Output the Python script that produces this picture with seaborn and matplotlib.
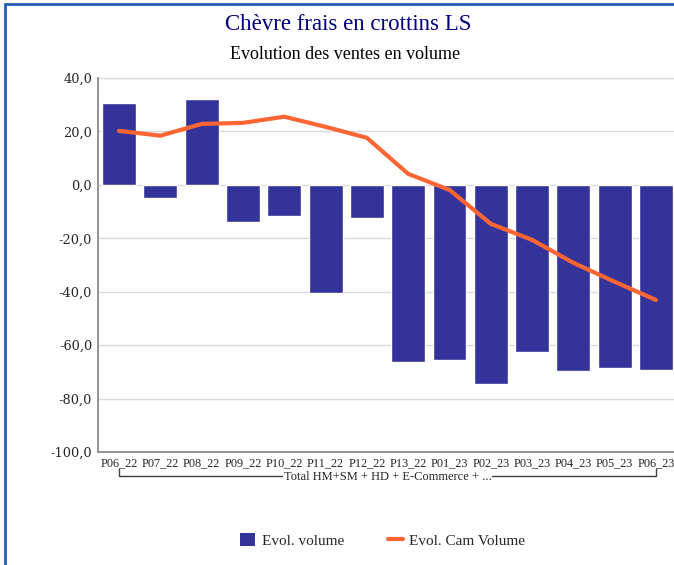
import numpy as np
import pandas as pd
import matplotlib
matplotlib.use("Agg")
import matplotlib.pyplot as plt
import matplotlib.transforms as mtransforms
from matplotlib.patches import Patch
from matplotlib.lines import Line2D
import seaborn as sns

periods = ["P06_22", "P07_22", "P08_22", "P09_22", "P10_22", "P11_22", "P12_22",
           "P13_22", "P01_23", "P02_23", "P03_23", "P04_23", "P05_23", "P06_23"]
evol_volume = [30.7, -4.9, 32.2, -13.9, -11.6, -40.4, -12.4,
               -66.3, -65.5, -74.5, -62.5, -69.7, -68.5, -69.3]
evol_cam_volume = [20.2, 18.4, 22.8, 23.2, 25.5, 21.7, 17.6,
                   4.1, -1.9, -14.6, -20.6, -29.2, -36.3, -43.1]
y_ticks = [40, 20, 0, -20, -40, -60, -80, -100]
group_label = "Total HM+SM + HD + E-Commerce + ..."

bar_color = "#333399"
line_color = "#FF6633"

sns.set_theme(style="white")
plt.rcParams["font.family"] = ["Liberation Serif", "DejaVu Serif"]

df = pd.DataFrame({"period": periods, "vol": evol_volume, "cam": evol_cam_volume})

fig = plt.figure(figsize=(6.74, 5.65), dpi=100)
ax = fig.add_axes([0.146, 0.2, 0.858, 0.662])

sns.barplot(data=df, x="period", y="vol", color=bar_color, saturation=1,
            width=0.82, ax=ax)
sns.pointplot(data=df, x="period", y="cam", color=line_color, marker="",
              linestyle="-", linewidth=3, ax=ax)

ax.set_xlim(-0.5, len(periods) - 0.5)
ax.set_ylim(-100, 40)
ax.set_yticks(y_ticks)
ax.set_yticklabels([f"{v:.1f}".replace(".", ",") for v in y_ticks],
                   fontsize=9.3, family="DejaVu Serif")
ax.yaxis.grid(True, color="#D9D9D9", linewidth=1)
ax.set_axisbelow(True)
ax.set_xlabel("")
ax.set_ylabel("")
ax.tick_params(axis="x", length=0, pad=4, labelsize=8.8)
ax.tick_params(axis="y", length=3, color="#808080", pad=1.5)
for side in ["top", "right"]:
    ax.spines[side].set_visible(False)
for side in ["left", "bottom"]:
    ax.spines[side].set_color("#808080")
    ax.spines[side].set_linewidth(1.2)

# group bracket under the period labels
trans = mtransforms.blended_transform_factory(ax.transData, ax.transAxes)
x0, x1 = 0, len(periods) - 1
ax.plot([x0, x0, x1, x1], [-0.046, -0.063, -0.063, -0.046], color="#404040",
        linewidth=1, transform=trans, clip_on=False)
ax.text((x0 + x1) / 2, -0.068, group_label, transform=trans, ha="center", va="center",
        fontsize=9, bbox=dict(facecolor="white", edgecolor="none", pad=0.5))

fig.text(0.517, 0.957, "Chèvre frais en crottins LS", ha="center", va="center",
         fontsize=16.5, color="#000080")
fig.text(0.512, 0.904, "Evolution des ventes en volume", ha="center", va="center",
         fontsize=13, color="black")

handles = [Patch(facecolor=bar_color, edgecolor="none", label="Evol. volume"),
           Line2D([0], [0], color=line_color, linewidth=3, label="Evol. Cam Volume")]
fig.legend(handles=handles, loc="center", bbox_to_anchor=(0.568, 0.044), ncol=2,
           frameon=False, fontsize=11, handlelength=0.95, handleheight=0.95,
           columnspacing=2.9, handletextpad=0.45)

# blue frame on the left and top
fig.add_artist(Line2D([0.008, 0.008], [0, 0.993], color="#1F5FB0", linewidth=2,
                      transform=fig.transFigure))
fig.add_artist(Line2D([0.008, 1], [0.993, 0.993], color="#1F5FB0", linewidth=2,
                      transform=fig.transFigure))

fig.savefig("out.png", dpi=100)
